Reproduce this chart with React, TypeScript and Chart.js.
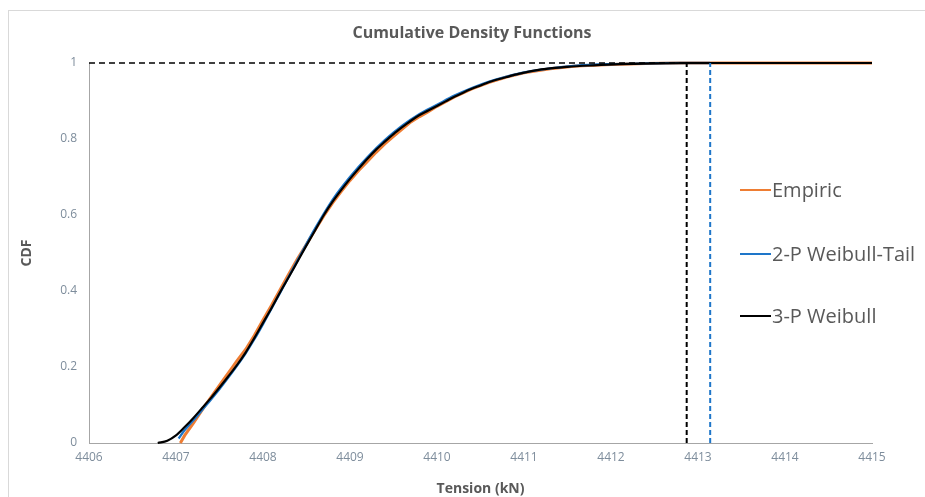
import React, { useEffect, useRef } from "react";
import { Chart, registerables } from "chart.js";

Chart.register(...registerables);

const FONT = "'Open Sans', Lato, sans-serif";

const chartTitle = "Cumulative Density Functions";
const xAxisTitle = "Tension (kN)";
const yAxisTitle = "CDF";
const seriesNames = ["Empiric", "2-P Weibull-Tail", "3-P Weibull"];

const xTicks = [4406, 4407, 4408, 4409, 4410, 4411, 4412, 4413, 4414, 4415];
const yTicks = [0, 0.2, 0.4, 0.6, 0.8, 1];

const empiricX = [4407.05, 4407.1, 4407.2, 4407.28, 4407.35, 4407.45, 4407.55, 4407.65, 4407.7, 4407.8, 4407.9, 4408.0, 4408.1, 4408.2, 4408.3, 4408.4, 4408.5, 4408.6, 4408.7, 4408.8, 4408.9, 4409.0, 4409.1, 4409.2, 4409.3, 4409.4, 4409.5, 4409.6, 4409.7, 4409.8, 4409.9, 4410.0, 4410.2, 4410.4, 4410.6, 4410.8, 4411.0, 4411.3, 4411.6, 4412.0, 4412.4, 4412.8, 4415];
const empiricY = [0, 0.02, 0.052, 0.08, 0.104, 0.136, 0.168, 0.2, 0.216, 0.246, 0.283, 0.324, 0.363, 0.405, 0.446, 0.486, 0.523, 0.561, 0.598, 0.632, 0.662, 0.691, 0.717, 0.741, 0.765, 0.787, 0.807, 0.826, 0.845, 0.859, 0.872, 0.886, 0.911, 0.932, 0.949, 0.963, 0.974, 0.985, 0.992, 0.996, 0.999, 1, 1];

const weibull2X = [4407.03, 4407.1, 4407.2, 4407.3, 4407.4, 4407.5, 4407.6, 4407.7, 4407.8, 4407.9, 4408.0, 4408.2, 4408.4, 4408.6, 4408.8, 4409.0, 4409.2, 4409.4, 4409.6, 4409.8, 4410.0, 4410.2, 4410.4, 4410.6, 4410.8, 4411.0, 4411.3, 4411.6, 4412.0, 4412.4, 4412.8, 4413.14];
const weibull2Y = [0.012, 0.034, 0.06, 0.087, 0.114, 0.142, 0.172, 0.203, 0.236, 0.273, 0.313, 0.397, 0.482, 0.565, 0.64, 0.7, 0.752, 0.797, 0.835, 0.866, 0.89, 0.914, 0.934, 0.951, 0.964, 0.975, 0.986, 0.993, 0.997, 0.999, 1, 1];

const weibull3X = [4406.79, 4406.9, 4407.0, 4407.1, 4407.2, 4407.3, 4407.4, 4407.5, 4407.6, 4407.7, 4407.8, 4407.9, 4408.0, 4408.1, 4408.2, 4408.3, 4408.4, 4408.5, 4408.6, 4408.7, 4408.8, 4408.9, 4409.0, 4409.1, 4409.2, 4409.3, 4409.4, 4409.5, 4409.6, 4409.7, 4409.8, 4409.9, 4410.0, 4410.1, 4410.2, 4410.3, 4410.4, 4410.5, 4410.6, 4410.8, 4410.95, 4411.2, 4411.5, 4411.8, 4412.1, 4412.5, 4412.9, 4413.5, 4414.2, 4415];
const weibull3Y = [0, 0.006, 0.02, 0.042, 0.066, 0.092, 0.118, 0.146, 0.175, 0.205, 0.238, 0.276, 0.316, 0.356, 0.398, 0.438, 0.479, 0.52, 0.56, 0.6, 0.635, 0.666, 0.695, 0.722, 0.748, 0.772, 0.793, 0.813, 0.831, 0.848, 0.863, 0.875, 0.887, 0.899, 0.911, 0.922, 0.932, 0.941, 0.95, 0.963, 0.972, 0.983, 0.99, 0.994, 0.997, 0.999, 1, 1, 1, 1];

// reference lines
const levelLineX = [4406, 4412.87];
const levelLineY = [1, 1];
const limit3PX = [4412.87, 4412.87];
const limit2PX = [4413.14, 4413.14];
const limitY = [0, 1];

const ORANGE = "#EE7D33";
const BLUE = "#1E76C9";
const BLACK = "#000000";
const TEXT = "#595959";
const TICK = "#7E8D9C";

const zip = (xs: number[], ys: number[]) => xs.map((x, i) => ({ x, y: ys[i] }));

const overlayPlugin = {
  id: "overlay",
  afterDraw(chart: any) {
    const ctx = chart.ctx;
    ctx.save();
    ctx.fillStyle = TEXT;
    ctx.font = `bold 16px ${FONT}`;
    ctx.textAlign = "center";
    ctx.textBaseline = "middle";
    ctx.fillText(chartTitle, 472, 33);

    const items = [
      { label: seriesNames[0], color: ORANGE, y: 190 },
      { label: seriesNames[1], color: BLUE, y: 254 },
      { label: seriesNames[2], color: BLACK, y: 316 },
    ];
    ctx.font = `20px ${FONT}`;
    ctx.textAlign = "left";
    items.forEach((it) => {
      ctx.strokeStyle = it.color;
      ctx.lineWidth = 2;
      ctx.beginPath();
      ctx.moveTo(740, it.y);
      ctx.lineTo(771, it.y);
      ctx.stroke();
      ctx.fillStyle = TEXT;
      ctx.fillText(it.label, 772, it.y + 1);
    });
    ctx.restore();
  },
};

export default function App() {
  const ref = useRef<HTMLCanvasElement>(null);

  useEffect(() => {
    if (!ref.current) return;
    const common = { pointRadius: 0, pointHoverRadius: 0, fill: false, clip: false as any };
    const chart = new Chart(ref.current, {
      type: "line",
      data: {
        datasets: [
          { ...common, label: "3P limit", data: zip(limit3PX, limitY), borderColor: BLACK, borderWidth: 2, borderDash: [5, 3], order: 0 },
          { ...common, label: "2P limit", data: zip(limit2PX, limitY), borderColor: BLUE, borderWidth: 2, borderDash: [5, 3], order: 0 },
          { ...common, label: "level", data: zip(levelLineX, levelLineY), borderColor: BLACK, borderWidth: 1.5, borderDash: [6, 4], order: 0 },
          { ...common, label: seriesNames[2], data: zip(weibull3X, weibull3Y), borderColor: BLACK, borderWidth: 2.2, cubicInterpolationMode: "monotone", order: 1 },
          { ...common, label: seriesNames[1], data: zip(weibull2X, weibull2Y), borderColor: BLUE, borderWidth: 2.4, cubicInterpolationMode: "monotone", order: 2 },
          { ...common, label: seriesNames[0], data: zip(empiricX, empiricY), borderColor: ORANGE, borderWidth: 3, tension: 0, order: 3 },
        ],
      },
      options: {
        animation: false,
        responsive: false,
        maintainAspectRatio: false,
        parsing: false as any,
        layout: { padding: { top: 63, right: 53, left: 0, bottom: 0 } },
        plugins: {
          legend: { display: false },
          title: { display: false },
          tooltip: { enabled: false },
        },
        scales: {
          x: {
            type: "linear",
            min: xTicks[0],
            max: xTicks[xTicks.length - 1],
            afterFit: (s: any) => { s.height = 54; },
            afterBuildTicks: (s: any) => { s.ticks = xTicks.map((v) => ({ value: v })); },
            grid: { display: false, drawTicks: false },
            border: { display: true, color: "#A6A6A6", width: 1 },
            ticks: { padding: 7, color: TICK, font: { family: FONT, size: 12 }, callback: (v: any) => String(v), maxRotation: 0, autoSkip: false },
            title: { display: true, text: xAxisTitle, color: TEXT, font: { family: FONT, size: 14, weight: "bold" }, padding: { top: 0, bottom: 0 } },
          },
          y: {
            type: "linear",
            min: 0,
            max: 1,
            afterFit: (s: any) => { s.width = 89; },
            afterBuildTicks: (s: any) => { s.ticks = yTicks.map((v) => ({ value: v })); },
            grid: { display: false, drawTicks: false },
            border: { display: true, color: "#A6A6A6", width: 1 },
            ticks: { padding: 12, color: TICK, font: { family: FONT, size: 12 }, callback: (v: any) => String(v) },
            title: { display: true, text: yAxisTitle, color: TEXT, font: { family: FONT, size: 14, weight: "bold" }, padding: { top: 19, bottom: 0 } },
          },
        },
      },
      plugins: [overlayPlugin],
    });
    return () => chart.destroy();
  }, []);

  return (
    <div style={{ position: "absolute", left: 0, top: 0, width: 925, height: 497, overflow: "hidden", background: "#fff" }}>
      <div style={{ position: "absolute", left: 8, top: 10, width: 940, height: 520, border: "1px solid #D9D9D9", boxSizing: "border-box" }} />
      <canvas ref={ref} width={925} height={497} style={{ position: "absolute", left: 0, top: 0, width: 925, height: 497 }} />
    </div>
  );
}
